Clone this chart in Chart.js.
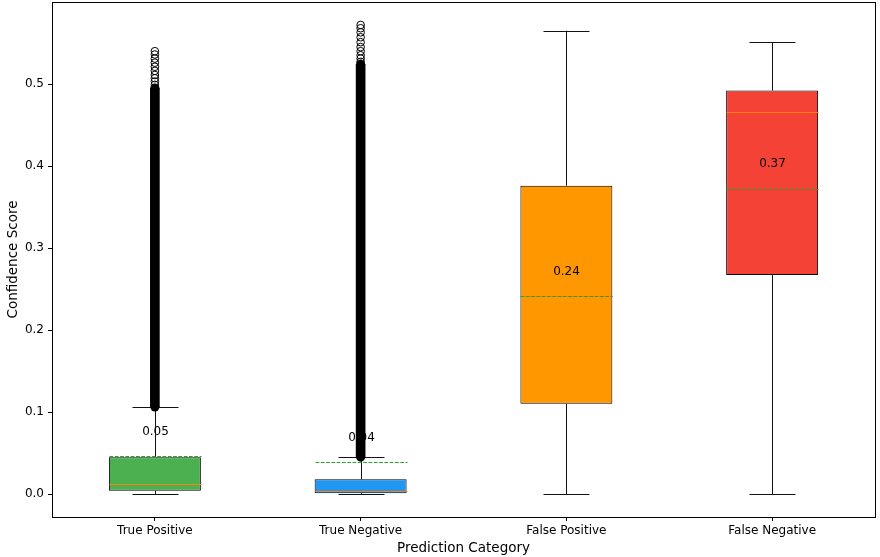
<!DOCTYPE html>
<html>
<head>
<meta charset="utf-8">
<script src="https://cdn.jsdelivr.net/npm/chart.js@4/dist/chart.umd.min.js"></script>
<style>
  html, body { margin: 0; padding: 0; background: #fff; overflow: hidden; }
  #boxChart { display: block; margin-top: -3px; }
</style>
</head>
<body>
<canvas id="boxChart" width="880" height="560"></canvas>
<script>
// Box plot values
const categories = ['True Positive', 'True Negative', 'False Positive', 'False Negative'];
const lowerWhisker = [0.000, 0.000, 0.000, 0.000];
const q1 = [0.004, 0.001, 0.110, 0.267];
const medians = [0.012, 0.004, 0.242, 0.466];
const q3 = [0.045, 0.018, 0.376, 0.492];
const upperWhisker = [0.106, 0.045, 0.565, 0.551];
const means = [0.046, 0.039, 0.241, 0.372];
const meanLabels = ['0.05', '0.04', '0.24', '0.37'];

// Outliers: a dense run (drawn as one column) plus the sparse ones at the top
const denseOutlierLow = [0.106, 0.045, null, null];
const denseOutlierHigh = [0.495, 0.524, null, null];
const tpSparseOutliers = [0.499, 0.503, 0.507, 0.511, 0.516, 0.521, 0.526, 0.531, 0.536, 0.540];
const tnSparseOutliers = [0.527, 0.531, 0.535, 0.540, 0.545, 0.551, 0.557, 0.563, 0.568, 0.572];

const yTicks = [0.0, 0.1, 0.2, 0.3, 0.4, 0.5];
const boxColors = ['#4CAF50', '#2196F3', '#FF9800', '#F44336'];

const FONT = 'DejaVu Sans';

// whiskers, caps, medians, means and mean labels
const boxExtras = {
    id: 'boxExtras',
    afterDatasetDraw(chart, args) {
        if (args.index !== 0) return;
        const ctx = chart.ctx;
        const x = chart.scales.x;
        const y = chart.scales.y;
        const boxW = x.getPixelForValue(1) - x.getPixelForValue(0);
        const half = boxW * 0.447 / 2;
        const capHalf = half / 2;
        ctx.save();
        for (let i = 0; i < categories.length; i++) {
            const cx = Math.round(x.getPixelForValue(i)) + 0.5;
            // whiskers
            ctx.strokeStyle = '#111';
            ctx.lineWidth = 1;
            ctx.setLineDash([]);
            ctx.beginPath();
            ctx.moveTo(cx, y.getPixelForValue(q3[i]));
            ctx.lineTo(cx, y.getPixelForValue(upperWhisker[i]));
            ctx.moveTo(cx, y.getPixelForValue(q1[i]));
            ctx.lineTo(cx, y.getPixelForValue(lowerWhisker[i]));
            // caps
            const yu = Math.round(y.getPixelForValue(upperWhisker[i])) + 0.5;
            const yl = Math.round(y.getPixelForValue(lowerWhisker[i])) + 0.5;
            ctx.moveTo(cx - capHalf, yu);
            ctx.lineTo(cx + capHalf, yu);
            ctx.moveTo(cx - capHalf, yl);
            ctx.lineTo(cx + capHalf, yl);
            ctx.stroke();

            // median
            const ym = Math.round(y.getPixelForValue(medians[i])) + 0.5;
            ctx.strokeStyle = '#ff7f0e';
            ctx.beginPath();
            ctx.moveTo(cx - half, ym);
            ctx.lineTo(cx + half, ym);
            ctx.stroke();

            // mean (dashed)
            const yMean = Math.round(y.getPixelForValue(means[i])) + 0.5;
            ctx.strokeStyle = '#2ca02c';
            ctx.setLineDash([3.7, 1.6]);
            ctx.beginPath();
            ctx.moveTo(cx - half, yMean);
            ctx.lineTo(cx + half, yMean);
            ctx.stroke();
            ctx.setLineDash([]);

            // mean label
            ctx.fillStyle = '#000';
            ctx.font = '12px "' + FONT + '"';
            ctx.textAlign = 'center';
            ctx.textBaseline = 'middle';
            ctx.fillText(meanLabels[i], cx, y.getPixelForValue(means[i] + 0.03));
        }
        ctx.restore();
    },
    afterDraw(chart) {
        // frame on all four sides
        const a = chart.chartArea;
        const ctx = chart.ctx;
        ctx.save();
        ctx.strokeStyle = '#000';
        ctx.lineWidth = 1;
        ctx.strokeRect(Math.round(a.left) + 0.5, Math.round(a.top) + 0.5,
            Math.round(a.right - a.left), Math.round(a.bottom - a.top));
        ctx.restore();
    }
};

// end points of the dense outlier runs
const denseEnds = [];
categories.forEach((c, i) => {
    if (denseOutlierLow[i] !== null) {
        denseEnds.push({ x: c, y: denseOutlierLow[i] });
        denseEnds.push({ x: c, y: denseOutlierHigh[i] });
    }
});

const ctx = document.getElementById('boxChart').getContext('2d');

new Chart(ctx, {
    type: 'bar',
    data: {
        labels: categories,
        datasets: [
            {
                label: 'box',
                data: categories.map((c, i) => [q1[i], q3[i]]),
                backgroundColor: boxColors,
                borderColor: '#000',
                borderWidth: 1,
                borderSkipped: false,
                barPercentage: 0.447,
                categoryPercentage: 1,
                grouped: false,
                order: 4
            },
            {
                label: 'dense outliers',
                data: categories.map((c, i) => denseOutlierLow[i] === null ? null : [denseOutlierLow[i], denseOutlierHigh[i]]),
                backgroundColor: '#000',
                borderWidth: 0,
                borderSkipped: false,
                barThickness: 9,
                grouped: false,
                order: 3
            },
            {
                type: 'scatter',
                label: 'dense ends',
                data: denseEnds,
                pointStyle: 'circle',
                pointRadius: 4.5,
                pointBorderWidth: 0,
                pointBackgroundColor: '#000',
                order: 2
            },
            {
                type: 'scatter',
                label: 'outliers TP',
                data: tpSparseOutliers.map(v => ({ x: categories[0], y: v })),
                pointStyle: 'circle',
                pointRadius: 3.8,
                pointBorderWidth: 1,
                pointBorderColor: '#000',
                pointBackgroundColor: 'rgba(0,0,0,0)',
                order: 1
            },
            {
                type: 'scatter',
                label: 'outliers TN',
                data: tnSparseOutliers.map(v => ({ x: categories[1], y: v })),
                pointStyle: 'circle',
                pointRadius: 3.8,
                pointBorderWidth: 1,
                pointBorderColor: '#000',
                pointBackgroundColor: 'rgba(0,0,0,0)',
                order: 1
            }
        ]
    },
    options: {
        responsive: false,
        maintainAspectRatio: false,
        animation: false,
        layout: { padding: { left: 0, top: 0, right: 3, bottom: 0 } },
        plugins: {
            legend: { display: false },
            tooltip: { enabled: false }
        },
        scales: {
            x: {
                type: 'category',
                offset: true,
                grid: { display: true, drawOnChartArea: false, offset: false, tickLength: 4, color: '#000' },
                border: { display: true, color: '#000' },
                ticks: { color: '#000', font: { family: FONT, size: 12 }, padding: 3, maxRotation: 0 },
                title: { display: true, text: 'Prediction Category', color: '#000', font: { family: FONT, size: 13.5 }, padding: { top: 0, bottom: 0 } },
                afterFit(scale) {
                    scale.height = 40;
                    scale.paddingLeft = 0;
                    scale.paddingRight = 0;
                }
            },
            y: {
                min: -0.028,
                max: 0.6,
                grid: { display: true, drawOnChartArea: false, tickLength: 4, color: '#000' },
                border: { display: true, color: '#000' },
                ticks: {
                    color: '#000',
                    font: { family: FONT, size: 12 },
                    padding: 4,
                    callback: v => v.toFixed(1)
                },
                afterBuildTicks(scale) { scale.ticks = yTicks.map(v => ({ value: v })); },
                title: { display: true, text: 'Confidence Score', color: '#000', font: { family: FONT, size: 13.5 }, padding: { top: 5, bottom: 0 } },
                afterFit(scale) {
                    scale.width = 52;
                    scale.paddingTop = 0;
                    scale.paddingBottom = 0;
                }
            }
        }
    },
    plugins: [boxExtras]
});
</script>
</body>
</html>
